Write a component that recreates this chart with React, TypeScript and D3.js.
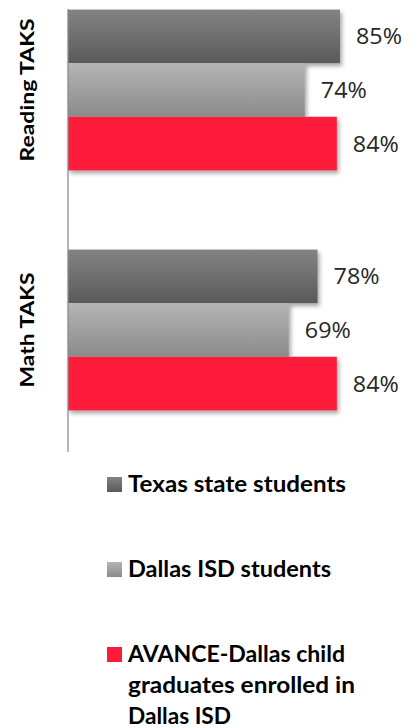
import React from "react";
import * as d3 from "d3";

const categories = ["Reading TAKS", "Math TAKS"];
const seriesNames = [
  "Texas state students",
  "Dallas ISD students",
  "AVANCE-Dallas child graduates enrolled in Dallas ISD",
];
const texasValues = [85, 78];
const dallasValues = [74, 69];
const avanceValues = [84, 84];
const valueLabels = [
  ["85%", "74%", "84%"],
  ["78%", "69%", "84%"],
];
const legendLines = [
  ["Texas state students"],
  ["Dallas ISD students"],
  ["AVANCE-Dallas child", "graduates enrolled in", "Dallas ISD"],
];

const W = 417;
const H = 728;

export default function App() {
  const series = [texasValues, dallasValues, avanceValues];
  const x = d3.scaleLinear().domain([0, 100]).range([68, 388]);
  const yGroup = d3.scaleBand<string>().domain(categories).range([-30, 450]);
  const groupH = yGroup.bandwidth() * 0.67;
  const inner = d3
    .scaleBand<number>()
    .domain(d3.range(seriesNames.length))
    .range([0, groupH]);

  const fills = ["url(#gDark)", "url(#gLight)", "#fe1a3b"];
  const legendY = [477, 562, 647];
  const legendWidths = [[218], [203], [217, 227, 103]];
  const catWidths = [143, 115];

  return (
    <svg
      width={W}
      height={H}
      style={{ position: "absolute", left: 0, top: 0, background: "#fff" }}
    >
      <defs>
        <linearGradient id="gDark" x1="0" y1="0" x2="0" y2="1">
          <stop offset="0" stopColor="#838383" />
          <stop offset="1" stopColor="#5a5a5a" />
        </linearGradient>
        <linearGradient id="gLight" x1="0" y1="0" x2="0" y2="1">
          <stop offset="0" stopColor="#b5b5b5" />
          <stop offset="1" stopColor="#8a8a8a" />
        </linearGradient>
        <filter id="shadow" x="-10%" y="-10%" width="130%" height="140%">
          <feDropShadow dx="2" dy="3" stdDeviation="2" floodColor="#000" floodOpacity="0.35" />
        </filter>
      </defs>

      {categories.map((cat, ci) => {
        const gy = (yGroup(cat) as number) + (yGroup.bandwidth() - groupH) / 2;
        return (
          <g key={cat}>
            <g filter="url(#shadow)">
              {series.map((vals, si) => (
                <rect
                  key={si}
                  x={x(0)}
                  y={gy + (inner(si) as number)}
                  width={x(vals[ci]) - x(0)}
                  height={inner.bandwidth()}
                  fill={fills[si]}
                />
              ))}
            </g>
            {series.map((vals, si) => (
              <text
                key={"l" + si}
                x={x(vals[ci]) + 16}
                y={gy + (inner(si) as number) + inner.bandwidth() / 2 + 8}
                fontFamily="'Open Sans', sans-serif"
                fontSize={22}
                fill="#262626"
                textLength={46}
                lengthAdjust="spacingAndGlyphs"
              >
                {valueLabels[ci][si]}
              </text>
            ))}
            <text
              transform={`translate(34, ${(yGroup(cat) as number) + yGroup.bandwidth() / 2}) rotate(-90)`}
              textAnchor="middle"
              fontFamily="Lato, sans-serif"
              fontWeight="bold"
              fontSize={19}
              fill="#000"
              textLength={catWidths[ci]}
              lengthAdjust="spacingAndGlyphs"
            >
              {cat}
            </text>
          </g>
        );
      })}

      <line x1={x(0)} x2={x(0)} y1={9} y2={452} stroke="#888" strokeWidth={1.2} />

      {seriesNames.map((name, si) => (
        <g key={name}>
          <rect x={107} y={legendY[si]} width={15} height={15} fill={fills[si]} />
          {legendLines[si].map((line, li) => (
            <text
              key={li}
              x={128}
              y={legendY[si] + 15 + li * 31}
              fontFamily="Lato, sans-serif"
              fontWeight="bold"
              fontSize={22}
              fill="#000"
              textLength={legendWidths[si][li]}
              lengthAdjust="spacingAndGlyphs"
            >
              {line}
            </text>
          ))}
        </g>
      ))}
    </svg>
  );
}
